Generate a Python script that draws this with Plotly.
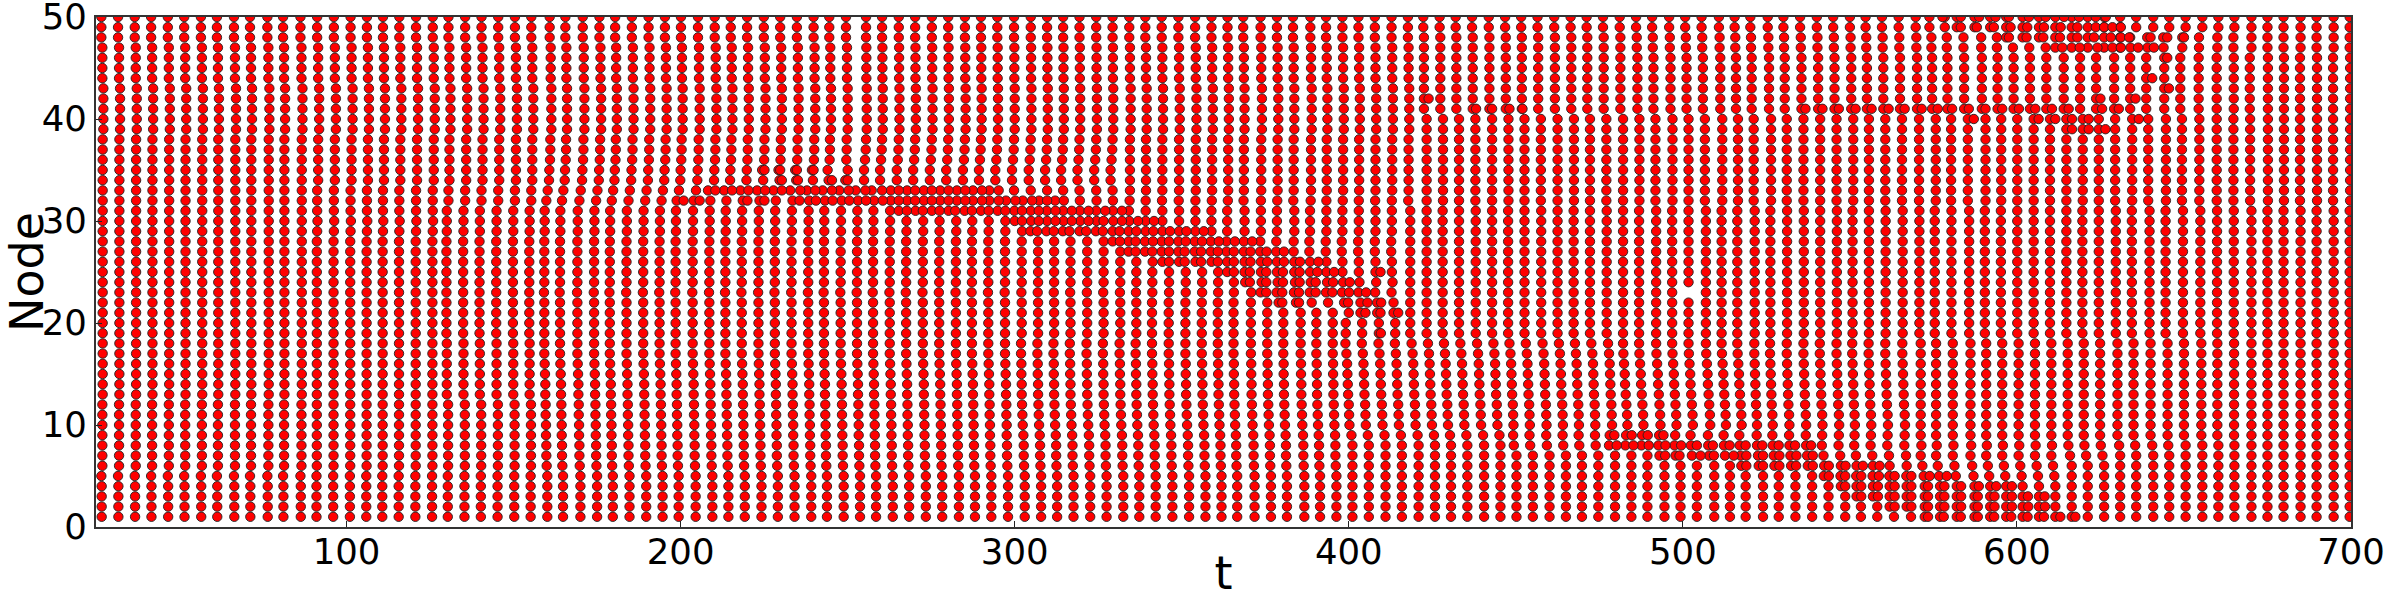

import plotly.graph_objects as go

# firing times of node 1, one per column of the raster
column_times = [
    26.7, 31.7, 36.7, 41.6, 46.6, 51.5, 56.5, 61.3, 66.4, 71.2, 76.4, 81.1, 86.3, 91.0,
    96.0, 101.0, 105.9, 110.7, 115.6, 120.6, 125.6, 130.3, 135.3, 140.2, 145.2, 150.2,
    155.1, 160.1, 164.8, 170.0, 175.0, 179.7, 184.7, 189.7, 194.6, 199.4, 204.5, 209.5,
    214.3, 219.2, 224.2, 229.1, 234.1, 239.1, 243.8, 248.8, 253.7, 258.5, 263.5, 268.4,
    273.4, 278.3, 283.3, 288.1, 293.0, 298.0, 303.0, 307.9, 312.7, 317.6, 322.6, 327.5,
    332.5, 337.3, 342.2, 347.2, 352.2, 357.1, 361.9, 366.6, 371.8, 376.7, 381.5, 386.7,
    391.4, 396.3, 401.1, 406.0, 411.0, 415.9, 420.9, 425.8, 430.6, 435.5, 440.5, 445.4,
    450.2, 455.1, 460.1, 465.0, 469.8, 474.7, 479.7, 484.6, 489.4, 494.5, 499.3, 504.2,
    509.4, 514.1, 518.8, 524.0, 528.7, 533.7, 538.7, 543.6, 548.6, 553.3, 558.2, 563.2,
    568.3, 572.4, 577.0, 582.0, 587.3, 592.0, 596.8, 601.7, 606.6, 611.5, 616.4, 621.2,
    626.1, 630.9, 635.7, 640.8, 645.6, 650.5, 655.5, 660.3, 665.1, 670.2, 675.0, 679.8,
    684.9, 689.7, 694.8, 699.6,
]

# how far each node sits from node 1, as [from_t, offset] steps
tail_mid = [[420, 2.4], [572, 3.3], [630, 3.6], [640, 3.8], [650, 4.1], [655, 4.3], [660, 4.5], [665, 4.7], [670, 4.93]]
tail_top = [[420, 1.6], [480, 1.8], [572, 2.2], [610, 2.5], [626, 3.0], [640, 3.3], [650, 3.9], [655, 4.3], [660, 4.6], [670, 4.93]]
tail_neg = [[420, -2.5], [572, -1.6], [630, -1.3], [640, -1.1], [650, -0.8], [655, -0.6], [660, -0.4], [665, -0.2], [670, 0]]
tail_low = [[572, -1.2], [630, -0.8], [645, -0.5], [655, -0.3], [665, -0.1], [670, 0]]

node_offsets = [
    [[25, 0]],
    [[25, 0], [562, -1.3], [572, 0]],
    [[25, 0], [552, -1.3], [572, 0]],
    [[25, 0], [547, -1.3], [572, 0]],
    [[25, -0.1], [90, 0], [542, -1.4], [572, -0.3], [612, 0]],
    [[25, 0.2], [90, 0.1], [160, -0.2], [400, 0], [517, -1.3], [572, -0.7], [612, 0]],
    [[25, 0.2], [90, 0.1], [160, -0.3], [400, 0], [494, -1.5], [572, -1.2], [612, -0.5], [630, 0]],
    [[25, 0.2], [90, 0.1], [160, -0.3], [400, 0], [450, -0.8], [478, -1.8], [540, -2.0], [572, -1.0], [630, -0.3], [650, 0]],
    [[25, 0.2], [90, 0.1], [160, -0.4], [400, -0.3], [450, -1.0], [478, -1.6], [500, -1.9]] + tail_low,
    [[25, 0.2], [90, 0.1], [160, -0.4], [300, -0.6], [400, -0.9], [480, -1.2], [520, -1.8]] + tail_low,
    [[25, 0.2], [90, 0.1], [160, -0.5], [300, -0.7], [400, -1.0], [480, -1.3], [520, -1.9]] + tail_low,
    [[25, 0.2], [90, 0.1], [160, -0.5], [300, -0.8], [400, -1.1], [480, -1.5], [520, -2.1]] + tail_low,
    [[25, 0.3], [90, 0.1], [130, -0.3], [160, -0.6], [300, -0.9], [400, -1.3], [480, -1.7], [520, -2.2]] + tail_low,
    [[25, 0.3], [90, 0.1], [130, -0.3], [160, -0.6], [300, -0.9], [400, -1.4], [480, -1.9], [520, -2.3]] + tail_low,
    [[25, 0.3], [90, 0.1], [130, -0.3], [160, -0.7], [300, -1.0], [400, -1.5], [480, -2.0], [520, -2.4]] + tail_low,
    [[25, 0.3], [90, 0.1], [130, -0.3], [160, -0.8], [300, -1.0], [400, -1.6], [480, -2.2], [520, -2.5]] + tail_low,
    [[25, 0.3], [90, 0.1], [130, -0.3], [160, -0.9], [300, -1.1], [400, -1.8], [480, -2.4], [520, -2.6]] + tail_low,
    [[25, 0.3], [90, 0.1], [130, -0.3], [160, -0.9], [300, -1.1], [400, -2.1], [480, -2.5], [520, -2.6]] + tail_low,
    [[25, 0.3], [90, 0.1], [130, -0.4], [160, -0.9], [340, -1.1], [400, -2.0]] + tail_neg,
    [[25, 0.3], [90, 0.1], [130, -0.4], [160, -0.9], [340, -1.1], [400, -2.0]] + tail_neg,
    [[25, 0.3], [90, 0.1], [130, -0.4], [160, -0.9], [340, -1.1], [403, -2.5]] + tail_neg,
    [[25, 0.3], [90, 0.1], [130, -0.4], [160, -0.9], [340, -1.1], [378, -2.5]] + tail_neg,
    [[25, 0.3], [90, 0.1], [130, -0.4], [160, -1.0], [340, -1.0], [373, -3.1]] + tail_neg,
    [[25, 0.3], [90, 0.1], [130, -0.4], [160, -0.9], [340, -1.0], [368, -2.8]] + tail_neg,
    [[25, 0.3], [90, 0.1], [130, -0.4], [160, -0.9], [340, -1.0], [363, -3.0]] + tail_neg,
    [[25, 0.3], [90, 0.1], [130, -0.4], [160, -0.9], [343, -3.0]] + tail_neg,
    [[25, 0.3], [90, 0.1], [130, -0.4], [160, -0.9], [333, -3.2]] + tail_neg,
    [[25, 0.3], [90, 0.1], [130, -0.4], [160, -0.9], [329, -3.2]] + tail_neg,
    [[25, 0.3], [90, 0.2], [130, -0.3], [160, -0.8], [304, -3.2], [340, -3.0]] + tail_neg,
    [[25, 0.3], [90, 0.3], [130, -0.3], [160, -0.8], [300, -3.0]] + tail_neg,
    [[25, 0.3], [90, 0.2], [130, -0.3], [160, -0.8], [264, -3.1], [340, -3.0]] + tail_neg,
    [[25, 0.3], [90, 0.2], [160, -0.3], [195, -0.6], [316, 1.9]] + tail_mid,
    [[25, 0.3], [90, 0.2], [160, 0.1], [205, -1.3], [260, -0.6], [296, 1.8], [330, 2.0]] + tail_mid,
    [[25, 0.3], [90, 0.5], [160, 0.5], [250, 1.2], [330, 2.0]] + tail_mid,
    [[25, 0.3], [90, 0.5], [160, 0.6], [220, 0.2], [245, 1.2], [330, 2.0]] + tail_mid,
    [[25, 0.3], [90, 0.5], [160, 0.8], [250, 1.5], [330, 2.0]] + tail_mid,
    [[25, 0.3], [90, 0.5], [160, 0.9], [250, 1.7], [330, 2.0]] + tail_mid,
    [[25, 0.3], [90, 0.5], [160, 0.9], [250, 1.8], [330, 2.0]] + tail_mid,
    [[25, 0.5], [90, 0.8], [160, 1.2], [250, 2.0], [330, 2.2]] + tail_mid,
    [[25, 0.5], [90, 0.8], [160, 1.2], [250, 2.0], [330, 2.2]] + tail_mid,
    [[25, 0.5], [90, 0.8], [160, 1.2], [250, 2.0], [330, 2.2]] + tail_top,
    [[25, 0.5], [90, 0.8], [160, 1.2], [250, 2.0], [330, 2.2]] + tail_top,
    [[25, 0.5], [90, 0.8], [160, 1.2], [250, 2.0], [330, 2.2]] + tail_top,
    [[25, 0.2], [90, 0.5], [160, 1.0], [250, 1.9], [330, 2.0]] + tail_top,
    [[25, 0.2], [90, 0.5], [160, 1.0], [250, 1.9], [330, 2.0]] + tail_top,
    [[25, 0.2], [90, 0.5], [160, 1.0], [250, 1.9], [330, 2.0]] + tail_top,
    [[25, 0.2], [90, 0.5], [160, 1.0], [250, 1.9], [330, 2.0], [420, 1.6], [572, 2.0], [611, 0], [635, -1.7], [650, -1.0], [660, -0.3], [670, 0]],
    [[25, -0.1], [90, 0.2], [160, 0.7], [250, 1.8], [420, 1.6], [572, 2.0], [596, 0], [635, -1.8], [650, -1.0], [660, -0.3], [670, 0]],
    [[25, -0.1], [90, 0.2], [160, 0.7], [250, 1.8], [420, 1.4], [580, 0]],
    [[25, -0.1], [90, 0.2], [160, 0.7], [250, 1.8], [420, 1.4], [580, 0]],
]

# second spikes of the close pairs, by node
extra_spikes = {
    1: [573.4, 578.1, 583.2, 588.3, 593.2, 598.3, 603.2, 608.1, 613.0, 617.5],
    2: [563.4, 568.4, 573.4, 578.3, 583.3, 588.3, 593.3, 598.5, 603.4, 608.4],
    3: [553.4, 558.4, 563.4, 568.4, 573.4, 578.3, 583.3, 588.3, 593.3, 598.5, 603.3, 608.3],
    4: [548.6, 553.4, 558.4, 563.4, 568.4, 573.4, 578.3, 583.3, 588.6, 593.8, 598.5],
    5: [543.7, 548.6, 553.4, 558.7, 563.4, 568.4, 573.9, 579.0],
    6: [519.0, 524.0, 528.9, 533.9, 538.9, 543.7, 548.7, 553.9, 558.9],
    7: [494.7, 499.0, 505.3, 509.3, 515.2, 519.0, 524.0, 528.9, 534.0, 538.9],
    8: [480.2, 485.2, 489.8, 494.8, 499.5, 504.2, 509.0, 514.0, 518.8, 523.8, 528.7, 533.6, 538.4],
    9: [479.5, 484.7, 489.5, 494.2],
    19: [409.6],
    21: [405.0, 409.5, 414.8],
    22: [380.1, 385.1, 399.8, 405.6, 409.7],
    23: [375.3, 380.1, 385.1, 390.1, 395.1, 400.1, 405.2],
    24: [370.4, 375.3, 380.3, 385.3, 390.1, 395.3, 400.3],
    25: [365.6, 370.4, 375.3, 380.3, 385.3, 390.6, 395.6, 409.5],
    26: [346.2, 350.9, 355.8, 360.8, 365.6, 370.6, 375.6, 380.6, 385.4, 390.9],
    27: [336.2, 341.2, 346.2, 350.9, 355.8, 360.8, 365.6, 370.6, 375.4, 380.6],
    28: [331.5, 336.2, 341.4, 346.2, 351.2, 356.1, 361.1, 365.9, 371.1],
    29: [306.7, 311.7, 316.4, 321.4, 326.4, 331.4, 336.4, 341.5, 346.5, 351.4, 356.6],
    30: [302.2, 307.2, 312.2, 317.1, 322.1, 326.6, 332.1, 336.9, 341.7],
    31: [267.7, 272.5, 277.5, 282.2, 287.2, 292.2, 297.2, 302.2, 307.2, 312.2, 317.1, 322.1, 327.1, 332.1],
    32: [200.9, 205.7, 220.0, 225.1, 235.6, 240.5, 245.5, 250.5, 255.5, 260.5, 265.3, 270.2, 275.2, 280.2,
         285.2, 290.2, 295.2, 300.2, 305.2, 309.7, 314.7],
    33: [210.4, 215.4, 220.3, 225.3, 230.3, 235.8, 240.3, 245.3, 250.3, 255.3, 260.3, 265.3, 270.2, 275.2,
         280.2, 285.2, 290.2, 295.2],
    34: [230.3, 235.1, 245.3, 250.0],
    35: [225.1, 229.8, 234.8, 239.8],
    39: [616.5, 621.5, 626.5],
    40: [587.1, 606.5, 611.5, 616.5, 621.5, 636.5],
    41: [438.1, 442.9, 448.1, 452.0, 536.7, 541.8, 546.7, 551.7, 556.5, 561.6, 566.4, 571.5, 576.3, 580.6,
         585.6, 590.6, 595.6, 600.6, 605.5, 610.5, 615.5, 625.5, 630.5],
    42: [423.9, 625.0, 635.5],
    43: [645.5],
    44: [640.5],
    46: [645.0],
    47: [613.6, 618.8, 624.1, 628.6, 631.1, 636.3, 641.0],
    48: [597.6, 602.9, 607.9, 612.9, 618.1, 623.1, 628.1, 631.1, 633.6, 640.0, 645.0, 650.0],
    49: [583.2, 588.0, 593.1, 598.1, 603.1, 608.1, 613.1, 618.1, 623.6, 626.1, 628.6, 631.1],
    50: [577.7, 583.2, 588.7, 593.6, 597.6, 603.6, 608.6, 614.1, 618.6, 623.6, 626.6],
}

# column that node 23 skips
missing_spikes = [(23, 504.2)]

x_ticks = [100, 200, 300, 400, 500, 600, 700]
y_ticks = [0, 10, 20, 30, 40, 50]

spike_t = []
spike_node = []
for node, steps in enumerate(node_offsets, start=1):
    for col in column_times:
        if (node, col) in missing_spikes:
            continue
        offset = [lag for start, lag in steps if start <= col][-1]
        spike_t.append(col + offset)
        spike_node.append(node)
    for t in extra_spikes.get(node, []):
        spike_t.append(t)
        spike_node.append(node)

fig = go.Figure(
    go.Scatter(
        x=spike_t,
        y=spike_node,
        mode="markers",
        marker=dict(color="#ff0000", size=9.4, line=dict(color="#222222", width=0.9)),
        showlegend=False,
    )
)

axis_style = dict(
    showgrid=False,
    zeroline=False,
    showline=True,
    mirror=True,
    linecolor="#333333",
    linewidth=2,
    ticks="inside",
    ticklen=6,
    tickwidth=1,
    tickcolor="#222222",
    ticklabeloverflow="allow",
    tickfont=dict(family="DejaVu Sans", size=35.5, color="black"),
)

fig.update_xaxes(
    range=[25, 700],
    tickvals=x_ticks,
    ticklabelstandoff=-8,
    title=dict(text="t", font=dict(family="DejaVu Sans", size=46, color="black"), standoff=16),
    **axis_style,
)
fig.update_yaxes(
    range=[0, 50],
    tickvals=y_ticks,
    title=dict(text="Node", font=dict(family="DejaVu Sans", size=46, color="black"), standoff=9),
    **axis_style,
)
fig.update_layout(
    width=2400,
    height=600,
    margin=dict(l=96, r=49, t=17, b=73, autoexpand=False),
    paper_bgcolor="white",
    plot_bgcolor="white",
)

fig.write_html("out.html", config={"displayModeBar": False}, post_script="document.body.style.margin='0';")
